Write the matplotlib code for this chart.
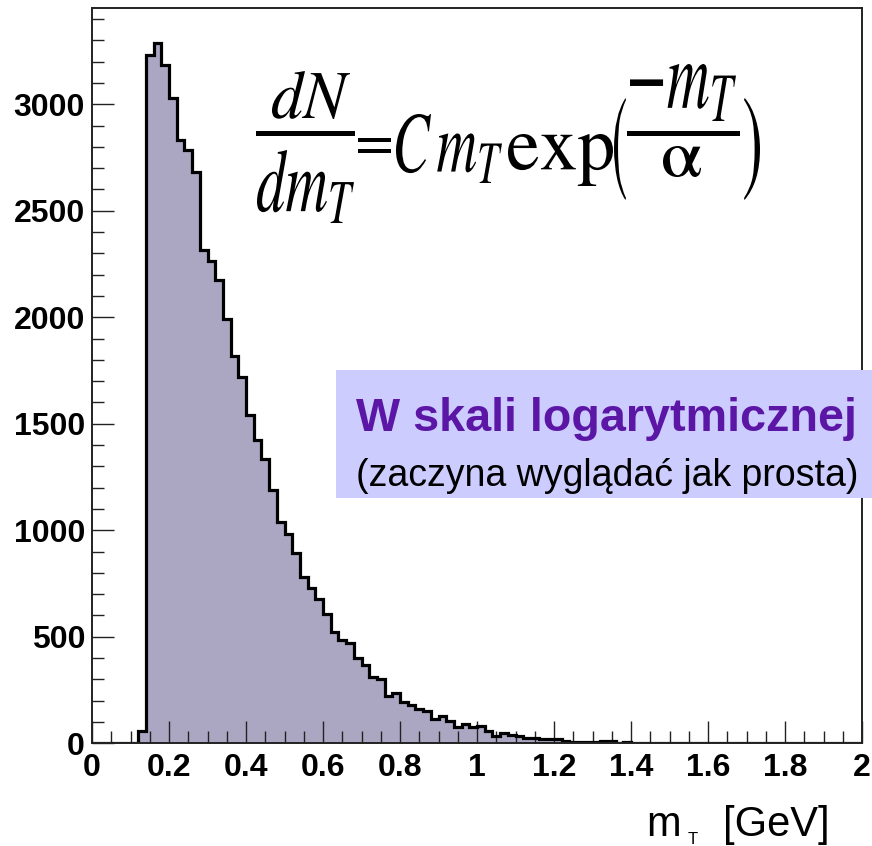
import numpy as np
import matplotlib
matplotlib.use("Agg")
import matplotlib.pyplot as plt
from matplotlib.ticker import MultipleLocator
from matplotlib.patches import Rectangle, PathPatch
from matplotlib.textpath import TextPath
from matplotlib.font_manager import FontProperties
from matplotlib.transforms import Affine2D

# histogram binning: 100 bins of 0.02 GeV on [0, 2]
mt_lo, mt_hi, n_bins = 0.0, 2.0, 100
mt_edges = np.linspace(mt_lo, mt_hi, n_bins + 1)

# counts per bin (bins 0.00 .. 1.98)
counts = [
    0, 0, 0, 0, 0, 0, 60, 3230, 3290, 3185,            # 0.00 - 0.18
    3030, 2830, 2786, 2684, 2317, 2264, 2174, 1993, 1820, 1718,  # 0.20 - 0.38
    1543, 1425, 1335, 1190, 1037, 982, 895, 783, 728, 678,       # 0.40 - 0.58
    607, 523, 485, 470, 399, 368, 310, 303, 220, 237,            # 0.60 - 0.78
    192, 179, 160, 150, 114, 128, 106, 76, 92, 77,               # 0.80 - 0.98
    83, 60, 35, 50, 37, 32, 27, 26, 22, 21,                      # 1.00 - 1.18
    18, 13, 8, 5, 4, 4, 11, 10, 1, 4,                            # 1.20 - 1.38
] + [0] * 30                                                     # 1.40 - 1.98

y_max = 3452

# formula pieces: (mathtext, box x0, x1, top, bottom in pixels from top-left)
formula_parts = [
    (r"$dN$", 272, 350, 71, 119),
    (r"$dm_T$", 257, 354, 150, 223),
    (r"$=$", 358, 391, 138, 153),
    (r"$C\,m_T$", 396, 502, 114, 183),
    (r"$\mathrm{exp}$", 508, 613, 134, 186),
    (r"$($", 614, 626, 98, 200),
    (r"$-m_T$", 630, 736, 64, 121),
    (r"$\mathrm{α}$", 663, 701, 146, 177),
    (r"$)$", 744, 760, 98, 200),
]
# fraction bars: x0, x1, y centre
fraction_bars = [(256, 355, 134), (627, 740, 134)]

box_title = "W skali logarytmicznej"
box_sub = "(zaczyna wyglądać jak prosta)"

plt.rcParams["font.family"] = ["Liberation Sans", "DejaVu Sans"]

W, H = 872, 846
fig = plt.figure(figsize=(W / 100, H / 100), dpi=100)
ax = fig.add_axes([92 / W, 1 - 743.3 / H, 770 / W, (743.3 - 8) / H])

# filled histogram + black outline
ax.stairs(counts, mt_edges, fill=True, color="#aba6c1", zorder=1)
ax.stairs(counts, mt_edges, color="black", lw=2.3, baseline=0, zorder=2)

ax.set_xlim(mt_lo, mt_hi)
ax.set_ylim(0, y_max)

ax.xaxis.set_major_locator(MultipleLocator(0.2))
ax.xaxis.set_minor_locator(MultipleLocator(0.05))
ax.yaxis.set_major_locator(MultipleLocator(500))
ax.yaxis.set_minor_locator(MultipleLocator(100))
ax.xaxis.set_major_formatter(lambda v, p: f"{v:g}")

ax.tick_params(which="both", direction="in", color="#222222", width=1.0,
               top=False, right=False)
ax.tick_params(which="major", length=16)
ax.tick_params(which="minor", length=8.5)
ax.tick_params(axis="y", which="major", pad=5)
ax.tick_params(axis="x", which="major", pad=7)
for lab in ax.get_xticklabels() + ax.get_yticklabels():
    lab.set_fontsize(23)
    lab.set_fontweight("bold")

for sp in ax.spines.values():
    sp.set_linewidth(1.4)
    sp.set_color("#222222")

# formula (the original equation is squeezed sideways, so each piece is drawn
# as a path and fitted into its own box)
fp = FontProperties(family="STIXGeneral", math_fontfamily="stix")


def put_path_text(s, x0, x1, y_top, y_bot):
    tp = TextPath((0, 0), s, size=60, prop=fp)
    bb = tp.get_extents()
    tr = (Affine2D().translate(-bb.x0, -bb.y0)
          .scale((x1 - x0) / bb.width, (y_bot - y_top) / bb.height)
          .translate(x0, H - y_bot))
    fig.add_artist(PathPatch(tp, transform=tr, facecolor="black", edgecolor="none"))


for s, x0, x1, yt, yb in formula_parts:
    put_path_text(s, x0, x1, yt, yb)
for x0, x1, yc in fraction_bars:
    fig.patches.append(Rectangle((x0 / W, 1 - (yc + 2.5) / H), (x1 - x0) / W, 5 / H,
                                 transform=fig.transFigure, facecolor="black",
                                 edgecolor="none"))

# lavender note box, drawn over the frame
fig.patches.append(Rectangle((336 / W, 1 - 497.5 / H), (W - 336) / W, 127.5 / H,
                             transform=fig.transFigure, facecolor="#ccccff",
                             edgecolor="none", zorder=5))
fig.text(356 / W, 1 - 431 / H, box_title, ha="left", va="baseline",
         fontsize=33.7, fontweight="bold", color="#5c16a6", zorder=6)
fig.text(356 / W, 1 - 486 / H, box_sub, ha="left", va="baseline",
         fontsize=27, color="black", zorder=6)

# axis title: m, tiny subscript T, [GeV]
fig.text(646 / W, 1 - 836 / H, "m", ha="left", va="baseline", fontsize=30)
fig.text(688 / W, 1 - 844 / H, "T", ha="left", va="baseline", fontsize=12)
fig.text(723 / W, 1 - 836 / H, "[GeV]", ha="left", va="baseline", fontsize=30)

fig.savefig("out.png", dpi=100)
